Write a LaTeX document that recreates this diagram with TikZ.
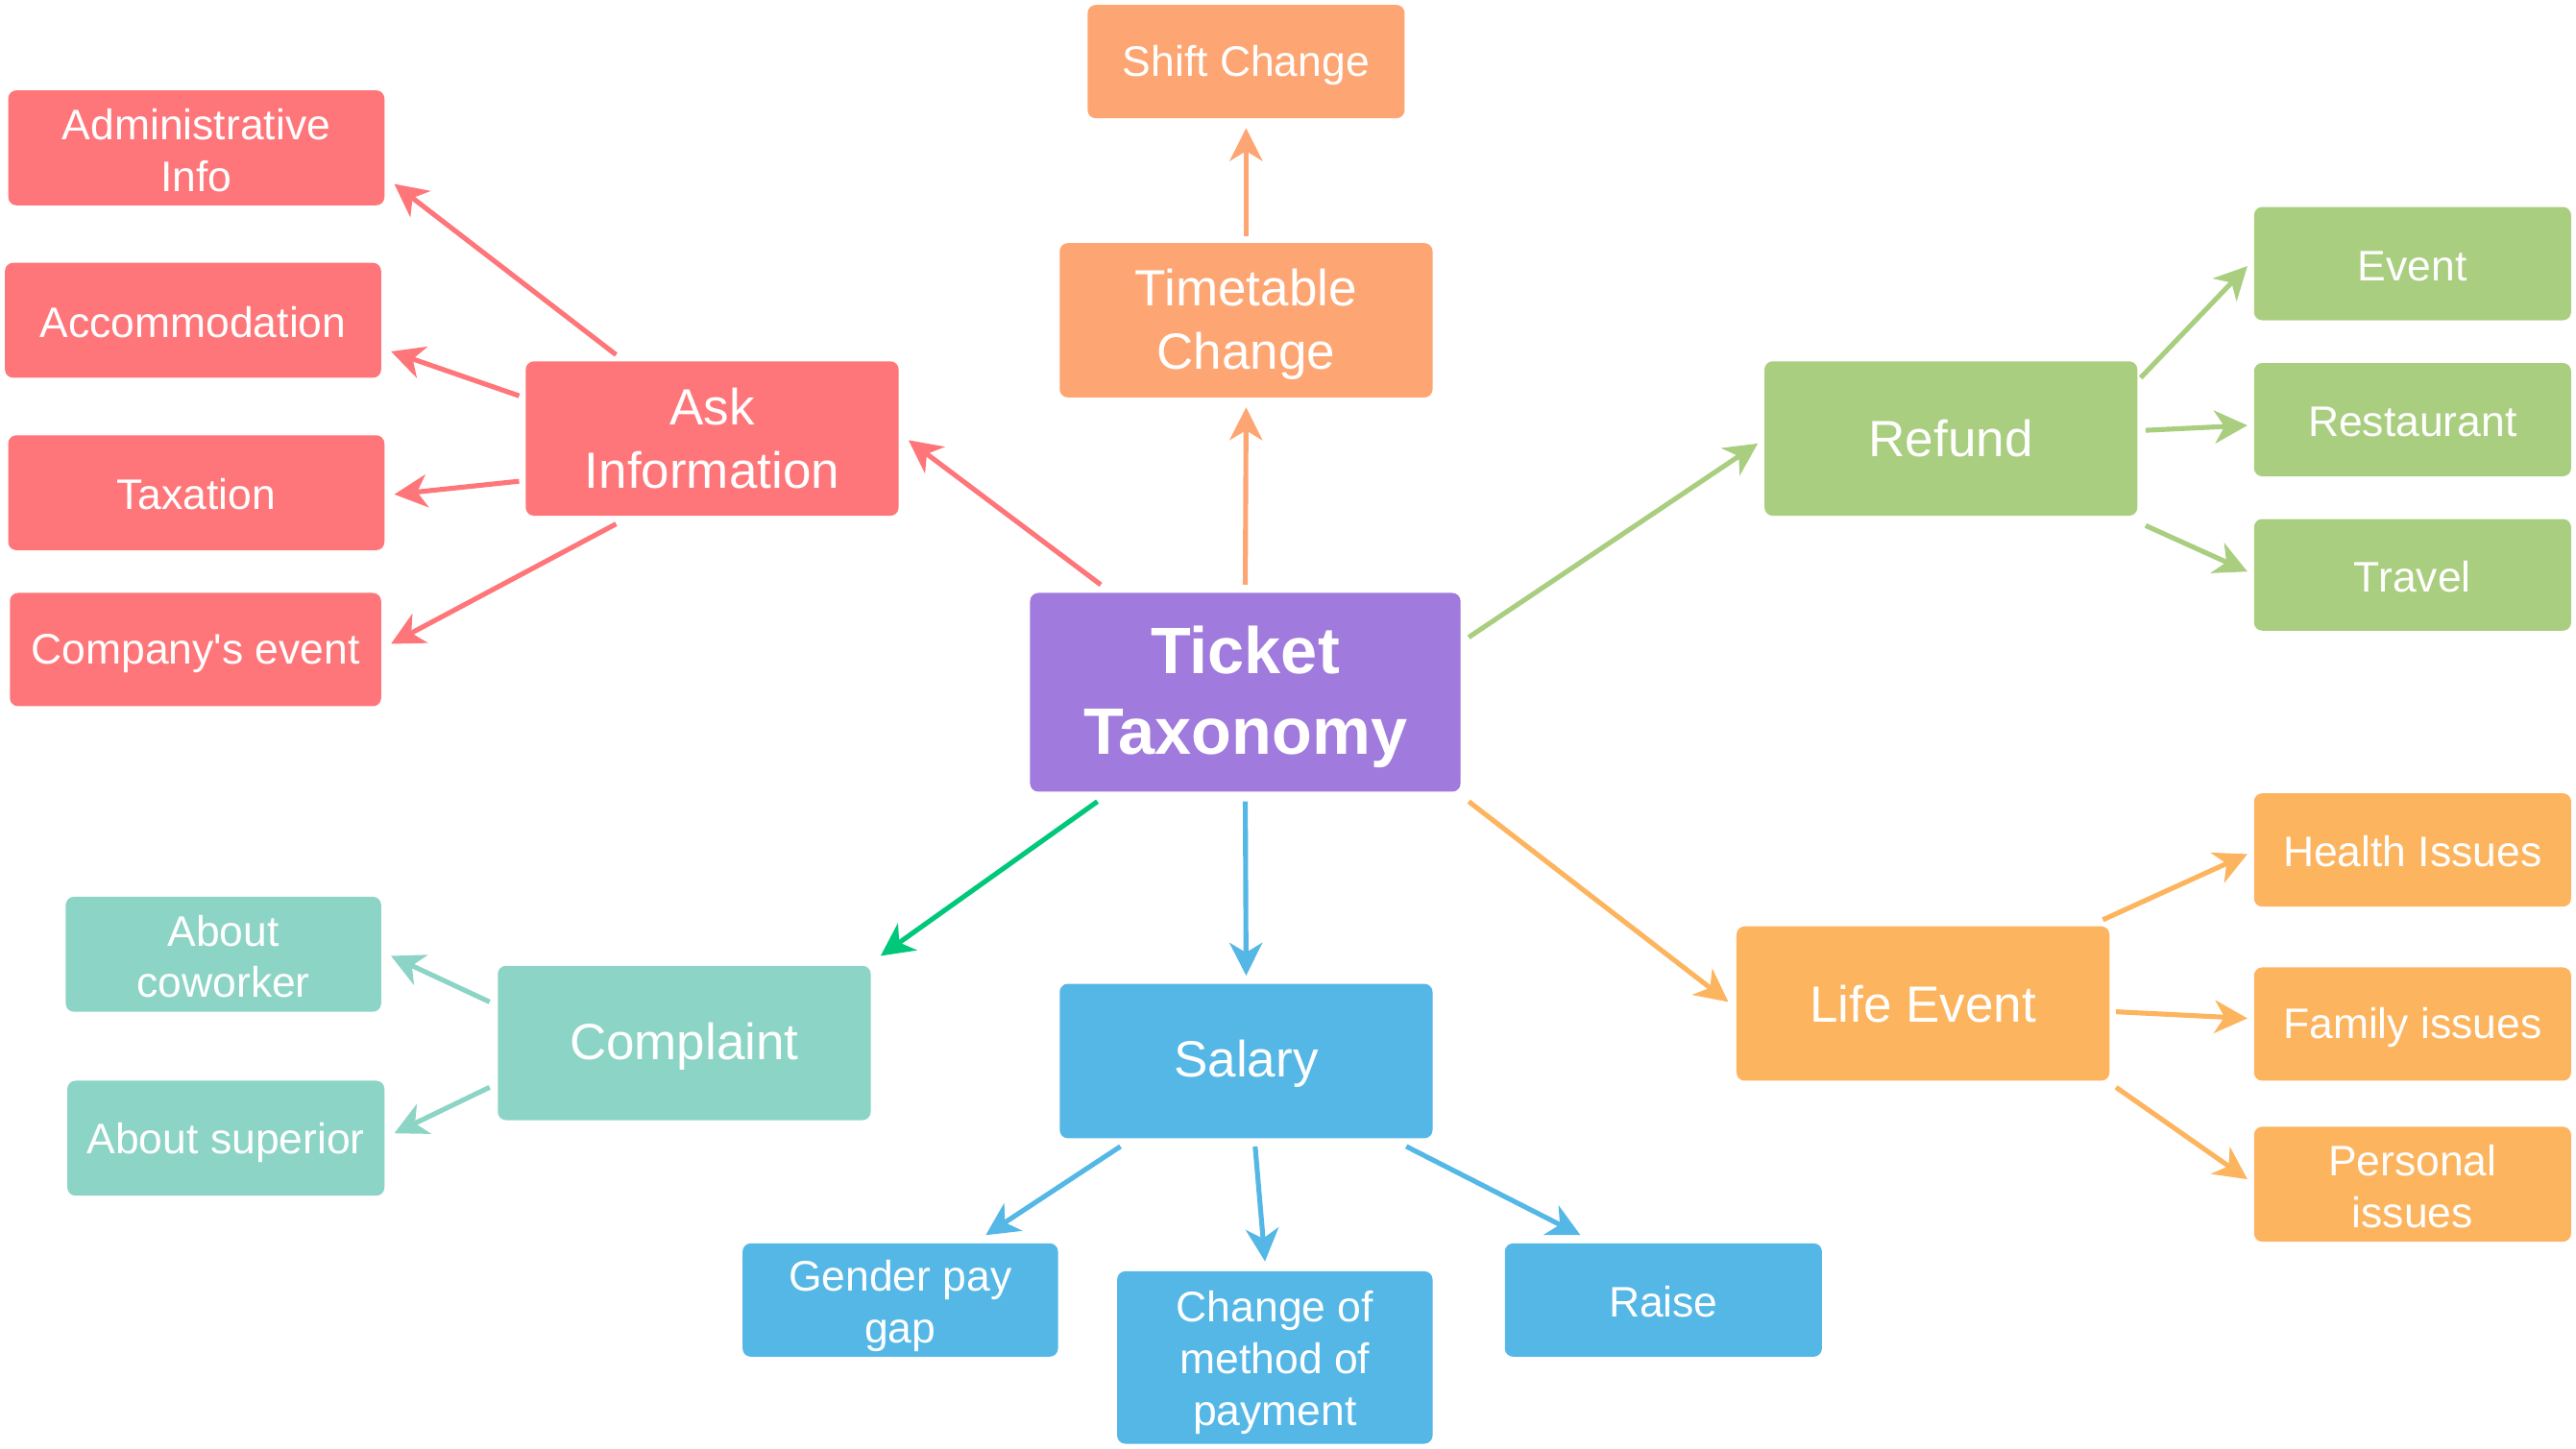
\documentclass[tikz,border=0pt]{standalone}
\usepackage{fontspec}
\setmainfont{Liberation Sans}
\usetikzlibrary{arrows.meta,calc}
\definecolor{cPur}{HTML}{A07ADC}
\definecolor{cRed}{HTML}{FE7679}
\definecolor{cOra}{HTML}{FDA673}
\definecolor{cGrn}{HTML}{AACE80}
\definecolor{cYel}{HTML}{FDB45E}
\definecolor{cTea}{HTML}{8CD4C5}
\definecolor{cBlu}{HTML}{54B7E6}
\definecolor{cArr}{HTML}{00C87A}
\newcommand{\sh}[1]{\rule{0pt}{#1em}}
\tikzset{
  box/.style={rectangle,rounded corners=5pt,inner sep=0pt,align=center,text=white},
  small/.style={box,font=\fontsize{26}{31.5}\selectfont},
  mid/.style={box,font=\fontsize{31}{39}\selectfont},
  conn/.style={line width=3pt,-{Stealth[length=20pt,width=20pt,inset=6pt]}},
}
\newcommand{\cn}[5]{\draw[conn,#1] ($(#2)+(#3)$) -- ($(#4)+(#5)$);}
\begin{document}
\begin{tikzpicture}[x=1pt,y=-1pt]
\useasboundingbox (0,0) rectangle (1568,882);
% nodes
\node[box,fill=cPur,minimum width=262pt,minimum height=121pt,font=\fontsize{40}{49}\selectfont\bfseries] (T) at (758,421.5) {\sh{0.87}Ticket\\Taxonomy};
\node[small,fill=cOra,minimum width=193pt,minimum height=69pt] (SC) at (758.5,37.5) {\sh{0.9}Shift Change};
\node[mid,fill=cOra,minimum width=227pt,minimum height=94pt] (TC) at (758.5,195) {\sh{0.88}Timetable\\Change};
\node[mid,fill=cRed,minimum width=227pt,minimum height=94pt] (Ask) at (433.5,267) {Ask\\Information};
\node[small,fill=cRed,minimum width=229pt,minimum height=70pt] (Adm) at (119.5,90) {\sh{0.83}Administrative\\Info};
\node[small,fill=cRed,minimum width=229pt,minimum height=70pt] (Acc) at (117.5,195) {\sh{0.8}Accommodation};
\node[small,fill=cRed,minimum width=229pt,minimum height=70pt] (Tax) at (119.5,300) {\sh{0.8}Taxation};
\node[small,fill=cRed,minimum width=226pt,minimum height=69pt] (Cev) at (119,395.5) {\sh{0.9}Company\textquotesingle s event};
\node[mid,fill=cGrn,minimum width=227pt,minimum height=94pt] (Ref) at (1187.5,267) {Refund};
\node[small,fill=cGrn,minimum width=193pt,minimum height=69pt] (Ev) at (1468.5,160.5) {\sh{0.8}Event};
\node[small,fill=cGrn,minimum width=193pt,minimum height=69pt] (Res) at (1468.5,255.5) {\sh{0.8}Restaurant};
\node[small,fill=cGrn,minimum width=193pt,minimum height=68pt] (Tra) at (1468.5,350) {\sh{0.8}Travel};
\node[mid,fill=cYel,minimum width=227pt,minimum height=94pt] (Life) at (1170.5,611) {Life Event};
\node[small,fill=cYel,minimum width=193pt,minimum height=69pt] (Hea) at (1468.5,517.5) {\sh{0.8}Health Issues};
\node[small,fill=cYel,minimum width=193pt,minimum height=69pt] (Fam) at (1468.5,623.5) {\sh{0.9}Family issues};
\node[small,fill=cYel,minimum width=193pt,minimum height=70pt] (Per) at (1468.5,721) {\sh{0.83}Personal\\issues};
\node[mid,fill=cTea,minimum width=227pt,minimum height=94pt] (Com) at (416.5,635) {\sh{0.88}Complaint};
\node[small,fill=cTea,minimum width=192pt,minimum height=70pt] (Cow) at (136,581) {\sh{0.83}About\\coworker};
\node[small,fill=cTea,minimum width=193pt,minimum height=70pt] (Sup) at (137.5,693) {\sh{0.95}About superior};
\node[mid,fill=cBlu,minimum width=227pt,minimum height=94pt] (Sal) at (758.5,646) {\sh{0.85}Salary};
\node[small,fill=cBlu,minimum width=192pt,minimum height=69pt] (Gen) at (548,791.5) {\sh{1.0}Gender pay\\gap};
\node[small,fill=cBlu,minimum width=192pt,minimum height=105pt] (Chg) at (776,826.5) {\sh{0.95}Change of\\method of\\payment};
\node[small,fill=cBlu,minimum width=193pt,minimum height=69pt] (Rai) at (1012.5,791.5) {\sh{0.8}Raise};
% connectors
\cn{cOra}{T}{0,-65.5}{TC}{0,53}
\cn{cOra}{TC}{0,-51}{SC}{0,40.5}
\cn{cRed}{T}{-88,-65.5}{Ask}{119.5,1}
\cn{cRed}{Ask}{-58.5,-51}{Adm}{120.5,22}
\cn{cRed}{Ask}{-117.5,-26}{Acc}{120.5,19}
\cn{cRed}{Ask}{-117.5,26}{Tax}{120.5,1}
\cn{cRed}{Ask}{-58.5,52}{Cev}{119,-3.5}
\cn{cGrn}{T}{136,-33.5}{Ref}{-117.5,3}
\cn{cGrn}{Ref}{115.5,-37}{Ev}{-100.5,1.5}
\cn{cGrn}{Ref}{118.5,-5}{Res}{-100.5,3.5}
\cn{cGrn}{Ref}{118.5,53}{Tra}{-100.5,-2}
\cn{cYel}{T}{136,66.5}{Life}{-118.5,-1}
\cn{cYel}{Life}{109.5,-51}{Hea}{-100.5,2.5}
\cn{cYel}{Life}{117.5,5}{Fam}{-100.5,-3.5}
\cn{cYel}{Life}{117.5,51}{Per}{-100.5,-3}
\cn{cArr}{T}{-90,66.5}{Com}{119.5,-53}
\cn{cTea}{Com}{-118.5,-25}{Cow}{102,1}
\cn{cTea}{Com}{-118.5,27}{Sup}{102.5,-3}
\cn{cBlu}{T}{0,66.5}{Sal}{0,-52}
\cn{cBlu}{Sal}{-76.5,52}{Gen}{52,-39.5}
\cn{cBlu}{Sal}{5.5,52}{Chg}{-6,-58.5}
\cn{cBlu}{Sal}{97.5,52}{Rai}{-50.5,-39.5}
\end{tikzpicture}
\end{document}
